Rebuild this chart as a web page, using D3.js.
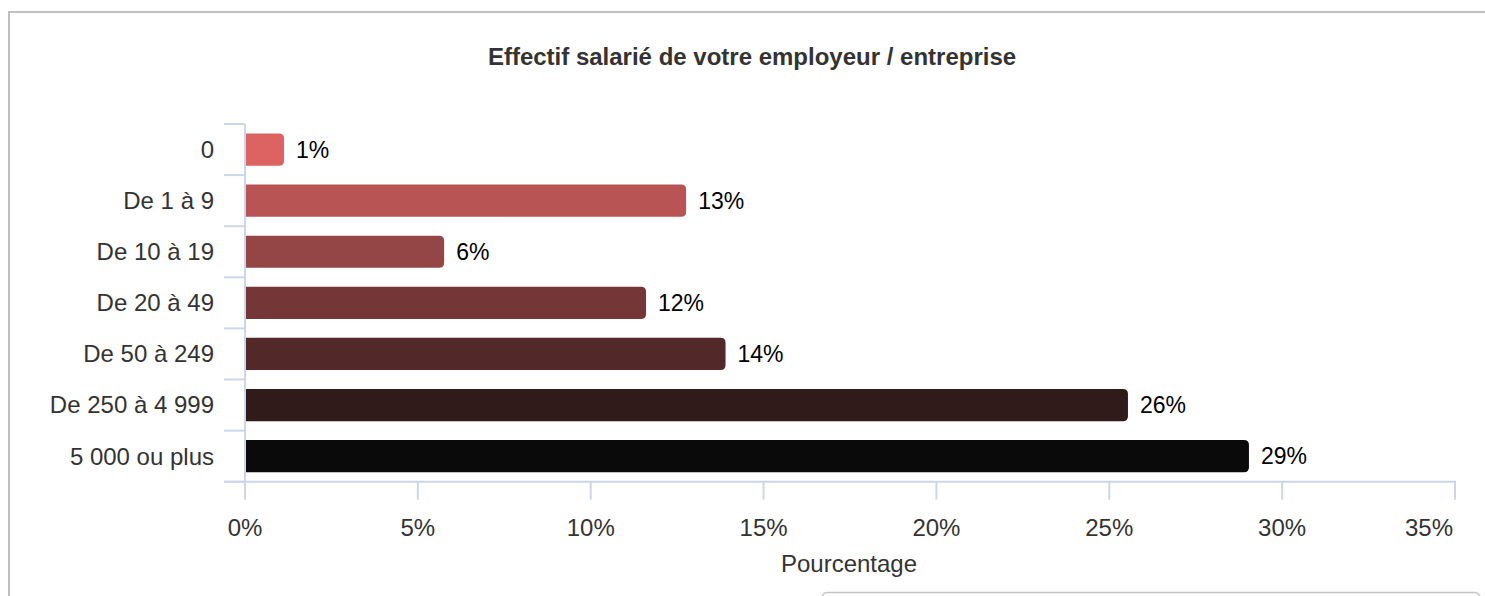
<!DOCTYPE html>
<html><head><meta charset="utf-8">
<script src="https://cdn.jsdelivr.net/npm/d3@7/dist/d3.min.js"></script>
<style>
html,body{margin:0;padding:0;background:#fff;}
svg{display:block;font-family:"Liberation Sans",Arial,Helvetica,sans-serif;}
</style></head>
<body>
<svg id="c" width="1485" height="596"></svg>
<script>
const categories = ["0","De 1 à 9","De 10 à 19","De 20 à 49","De 50 à 249","De 250 à 4 999","5 000 ou plus"];
const values = [1.13, 12.76, 5.76, 11.6, 13.9, 25.54, 29.04];
const valueLabels = ["1%","13%","6%","12%","14%","26%","29%"];
const colors = ["#dd6262","#b85454","#944545","#743636","#532828","#311a1a","#0a0a0a"];
const xTicks = [0,5,10,15,20,25,30,35];
const title = "Effectif salarié de votre employeur / entreprise";
const xTitle = "Pourcentage";

const svg = d3.select("#c");
// outer panel border
svg.append("path").attr("d","M9,596 V12 H1485").attr("fill","none").attr("stroke","#bfbfbf").attr("stroke-width",2);
// bottom floating box
svg.append("rect").attr("x",822).attr("y",592.5).attr("width",658).attr("height",20).attr("rx",5)
  .attr("fill","#fff").attr("stroke","#c4c4c4").attr("stroke-width",1.5);

const x = d3.scaleLinear().domain([0,35]).range([245,1455]);
const y = d3.scaleBand().domain(categories).range([124,481.7]).paddingInner(0.37).paddingOuter(0.185);

svg.append("text").attr("x",752).attr("y",65).attr("text-anchor","middle")
  .attr("font-size",24).attr("font-weight","bold").attr("fill","#333").text(title);

const axisColor = "#ccd6eb";
// y axis
const yAxis = svg.append("g").attr("transform","translate(245,0)");
yAxis.append("line").attr("x1",0).attr("x2",0).attr("y1",124).attr("y2",481.7).attr("stroke",axisColor).attr("stroke-width",2);
const yEdges = categories.map(c=>y(c)-y.step()*y.paddingInner()/2).concat([481.7]);
yAxis.selectAll("line.t").data(yEdges).join("line").attr("class","t")
  .attr("x1",-21).attr("x2",0).attr("y1",d=>d).attr("y2",d=>d).attr("stroke",axisColor).attr("stroke-width",2);
yAxis.selectAll("text").data(categories).join("text")
  .attr("x",-31).attr("y",c=>y(c)+y.bandwidth()/2).attr("dy","0.35em").attr("text-anchor","end")
  .attr("font-size",24).attr("fill","#333").text(c=>c);

// x axis
const xAxis = svg.append("g").attr("transform","translate(0,481.7)");
xAxis.append("line").attr("x1",224).attr("x2",1456).attr("y1",0).attr("y2",0).attr("stroke",axisColor).attr("stroke-width",2);
xAxis.selectAll("line.t").data(xTicks).join("line").attr("class","t")
  .attr("x1",d=>x(d)).attr("x2",d=>x(d)).attr("y1",0).attr("y2",18).attr("stroke",axisColor).attr("stroke-width",2);
xAxis.selectAll("text").data(xTicks).join("text")
  .attr("x",(d,i)=>i===xTicks.length-1 ? x(d)-2 : x(d)).attr("y",54)
  .attr("text-anchor",(d,i)=>i===xTicks.length-1 ? "end" : "middle")
  .attr("font-size",24).attr("fill","#333").text(d=>d+"%");
svg.append("text").attr("x",849).attr("y",572).attr("text-anchor","middle")
  .attr("font-size",24).attr("fill","#333").text(xTitle);

// bars with right rounded corners
function barPath(x0,y0,w,h,r){
  r=Math.min(r,w,h/2);
  return `M${x0},${y0} H${x0+w-r} Q${x0+w},${y0} ${x0+w},${y0+r} V${y0+h-r} Q${x0+w},${y0+h} ${x0+w-r},${y0+h} H${x0} Z`;
}
const data = categories.map((c,i)=>({c,v:values[i],l:valueLabels[i],col:colors[i]}));
svg.append("g").selectAll("path").data(data).join("path")
  .attr("d",d=>barPath(x(0)+1,y(d.c),x(d.v)-x(0)-1,y.bandwidth(),5))
  .attr("fill",d=>d.col);
svg.append("g").selectAll("text").data(data).join("text")
  .attr("x",d=>x(d.v)+12).attr("y",d=>y(d.c)+y.bandwidth()/2).attr("dy","0.35em")
  .attr("font-size",23).attr("fill","#000").text(d=>d.l);
</script>
</body></html>
